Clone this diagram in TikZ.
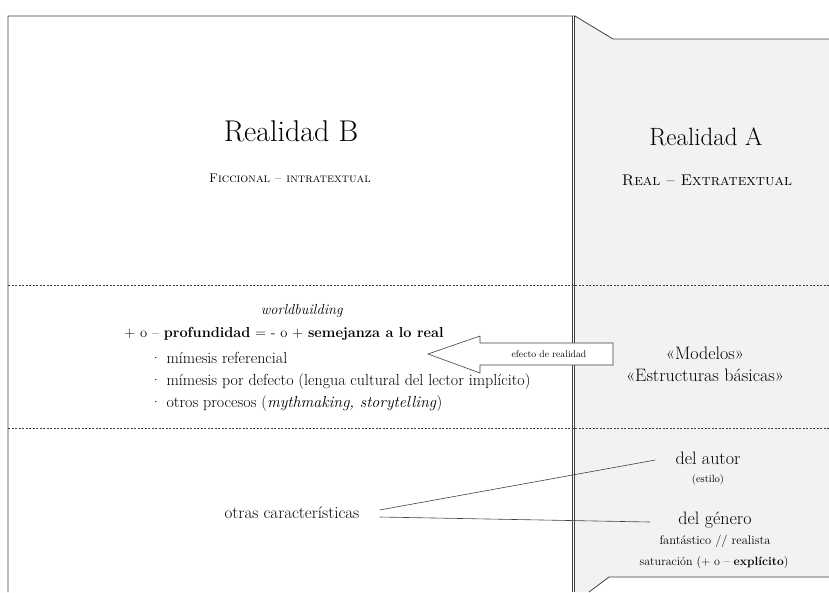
\documentclass[tikz,border=0pt]{standalone}
\usepackage{fontspec}
\usepackage{tikz}
\usetikzlibrary{positioning}
\definecolor{panelgray}{HTML}{F2F2F2}
\definecolor{edgegray}{HTML}{404040}

\begin{document}
\begin{tikzpicture}[x=1pt,y=-1pt]
    % Define a style for the texts and lines
    \tikzstyle{titulo} = [inner sep=0pt, font=\fontsize{30}{34}\selectfont]
    \tikzstyle{subtitulo} = [inner sep=0pt, font=\fontsize{12.5}{15}\selectfont]
    \tikzstyle{texto} = [inner sep=0pt, font=\fontsize{14.5}{17}\selectfont]
    \tikzstyle{lista} = [inner sep=0pt, anchor=west, font=\fontsize{16}{19}\selectfont]
    \tikzstyle{lado} = [inner sep=0pt, font=\fontsize{18}{21}\selectfont]
    \tikzstyle{menor} = [inner sep=0pt, font=\fontsize{12.5}{15}\selectfont]
    \tikzstyle{chico} = [inner sep=0pt, font=\fontsize{10.5}{12}\selectfont]
    \tikzstyle{borde} = [edgegray, line width=0.8pt]
    \tikzstyle{corte} = [edgegray, line width=0.5pt, dash pattern=on 2pt off 1.5pt]
    \tikzstyle{conector} = [edgegray, line width=0.6pt]

    \useasboundingbox (0,0) rectangle (829,592);

    % Panel of the real side
    \fill[panelgray] (575,16) -- (613,39) -- (829,39) -- (829,577) -- (609,577) -- (589,592) -- (575,592) -- cycle;
    \draw[borde] (8,592) -- (8,16) -- (575,16) -- (613,39) -- (829,39);
    \draw[borde] (589,592) -- (609,577) -- (829,577);
    \draw[edgegray, line width=0.6pt, double, double distance=1.2pt] (573.5,16) -- (573.5,592);

    % Dashed separations
    \draw[corte] (8,285) -- (829,285);
    \draw[corte] (8,428) -- (829,428);

    % Arrow from the real side
    \filldraw[edgegray, fill=white, line width=0.6pt] (428,354) -- (480,336) -- (480,343) -- (613,343)
        -- (613,365) -- (480,365) -- (480,373) -- cycle;
    \node[inner sep=0pt, font=\fontsize{9.7}{11}\selectfont] (efecto) at (549,354) {efecto de realidad};

    % Nodes
    \node[titulo] (realB) at (291,131) {Realidad B};
    \node[subtitulo] (ficcional) at (290,178) {\textsc{Ficcional – intratextual}};
    \node[titulo, font=\fontsize{25}{29}\selectfont] (realA) at (706,137) {Realidad A};
    \node[subtitulo, font=\fontsize{15.5}{18}\selectfont] (real) at (707,180) {\textsc{Real – Extratextual}};

    \node[texto] (world) at (302,311) {\textit{worldbuilding}};
    \node[texto] (prof) at (284,334) {+ o – \textbf{profundidad} = - o + \textbf{semejanza a lo real}};
    \node[lista] (mim1) at (150,358) {· mímesis referencial};
    \node[lista] (mim2) at (150,381) {· mímesis por defecto (lengua cultural del lector implícito)};
    \node[lista] (mim3) at (150,403) {· otros procesos (\textit{mythmaking, storytelling})};

    \node[lado] (modelos) at (705,353) {«Modelos»};
    \node[lado] (estruct) at (705,375) {«Estructuras básicas»};

    \node[texto, font=\fontsize{17}{20}\selectfont, inner xsep=20pt] (otras) at (292,513) {otras características};
    \node[lado, inner xsep=20pt] (autor) at (708,458) {del autor};
    \node[chico] (estilo) at (708,480) {(estilo)};
    \node[lado, inner xsep=28pt] (genero) at (715,520) {del género};
    \node[menor] (fant) at (715,541) {fantástico // realista};
    \node[menor, font=\fontsize{12}{14}\selectfont] (satur) at (714,562) {saturación (+ o – \textbf{explícito})};

    % Edges
    \draw[conector] ([yshift=3pt]otras.east) -- ([yshift=-2pt]autor.west);
    \draw[conector] ([yshift=-4pt]otras.east) -- ([yshift=-2pt]genero.west);
\end{tikzpicture}
\end{document}
